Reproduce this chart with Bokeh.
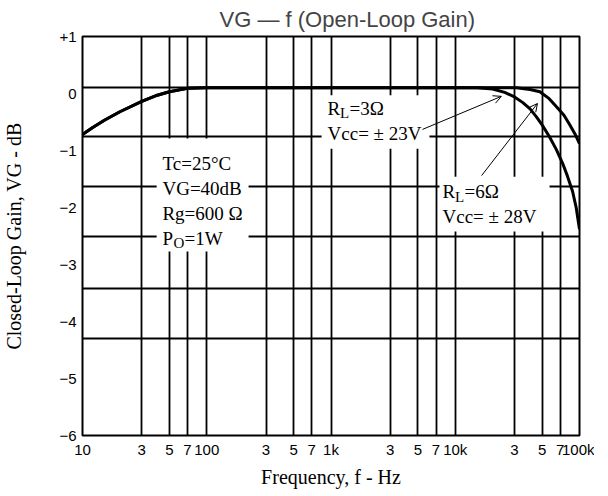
from bokeh.plotting import figure
from bokeh.models import FixedTicker, Label, Arrow, OpenHead
from bokeh.embed import file_html
from bokeh.resources import INLINE

# ---- data ----
x_ticks = [10, 30, 50, 70, 100, 300, 500, 700, 1000, 3000, 5000, 7000,
           10000, 30000, 50000, 70000, 100000]
x_tick_labels = ["10", "3", "5", "7", "100", "3", "5", "7", "1k", "3", "5", "7",
                 "10k", "3", "5", "7", "100k"]
y_ticks = [1, 0, -1, -2, -3, -4, -5, -6]
y_tick_labels = ["+1", "0", "\u22121", "\u22122", "\u22123", "\u22124", "\u22125", "\u22126"]
grid_db = [0.1, -0.75, -1.63, -2.51, -3.42, -4.3]

# RL = 6 ohm, Vcc = +-28V
f_6ohm = [10, 12, 15, 20, 30, 40, 50, 70, 100, 1000, 10000, 20000, 31000, 40000,
          48000, 57000, 65000, 75000, 83000, 92000, 100000]
vg_6ohm = [-0.72, -0.6, -0.47, -0.32, -0.14, -0.03, 0.03, 0.09, 0.1, 0.1, 0.1, 0.1,
           0.1, 0.07, 0.03, -0.09, -0.23, -0.38, -0.54, -0.71, -0.88]

# RL = 3 ohm, Vcc = +-23V
f_3ohm = [10, 12, 15, 20, 30, 40, 50, 70, 100, 1000, 10000, 15000, 20000, 25000,
          30000, 35000, 40000, 45000, 50000, 57000, 65000, 73000, 80000, 88000,
          94000, 100000]
vg_3ohm = [-0.72, -0.6, -0.47, -0.32, -0.14, -0.03, 0.03, 0.09, 0.1, 0.1, 0.1, 0.1,
           0.08, 0.02, -0.06, -0.16, -0.27, -0.41, -0.55, -0.75, -0.98, -1.22,
           -1.45, -1.72, -2.0, -2.38]

# white boxes behind the annotation blocks (left, right, top, bottom)
box_left = [39.5, 840, 7470]
box_right = [217, 6200, 57400]
box_top = [-0.79, -0.03, -1.46]
box_bottom = [-2.77, -0.97, -2.42]

SERIF = "Liberation Serif"
SANS = "Liberation Sans"

p = figure(frame_width=497, frame_height=399,
           x_axis_type="log", x_range=(10, 100000), y_range=(-6, 1),
           output_backend="svg", toolbar_location=None,
           min_border_left=80, min_border_right=15, min_border_top=30,
           min_border_bottom=40,
           title="VG \u2014 f (Open-Loop Gain)")
p.title.text_font = SANS
p.title.text_font_style = "normal"
p.title.text_font_size = "22px"
p.title.align = "left"
p.title.offset = 137
p.title.standoff = 9

p.outline_line_color = "black"
p.outline_line_width = 2
p.outline_line_alpha = 1

# axes
for ax in (p.xaxis[0], p.yaxis[0]):
    ax.axis_line_color = None
    ax.major_tick_line_color = None
    ax.minor_tick_line_color = None
    ax.major_tick_out = 0
    ax.major_tick_in = 0
    ax.minor_tick_out = 0
    ax.minor_tick_in = 0
    ax.major_label_text_font = SANS
    ax.major_label_text_font_size = "15px"
    ax.major_label_text_color = "black"
    ax.axis_label_text_font = SERIF
    ax.axis_label_text_font_style = "normal"
    ax.axis_label_text_font_size = "20px"
    ax.axis_label_text_color = "black"

p.xaxis.ticker = FixedTicker(ticks=x_ticks)
p.xaxis.major_label_overrides = {t: l for t, l in zip(x_ticks, x_tick_labels)}
p.xaxis.major_label_standoff = 5
p.xaxis.axis_label = "Frequency, f - Hz"
p.xaxis.axis_label_standoff = 5

p.yaxis.ticker = FixedTicker(ticks=y_ticks)
p.yaxis.major_label_overrides = {t: l for t, l in zip(y_ticks, y_tick_labels)}
p.yaxis.major_label_standoff = 6
p.yaxis.axis_label = "Closed-Loop Gain, VG - dB"
p.yaxis.axis_label_standoff = 31

# grid
p.xgrid.ticker = FixedTicker(ticks=x_ticks)
p.ygrid.ticker = FixedTicker(ticks=grid_db)
for g in (p.xgrid[0], p.ygrid[0]):
    g.grid_line_color = "black"
    g.grid_line_width = 1.8
    g.grid_line_alpha = 1

# white boxes
p.quad(left=box_left, right=box_right, top=box_top, bottom=box_bottom,
       fill_color="white", line_color=None)

# curves
p.line(f_6ohm, vg_6ohm, line_color="black", line_width=3)
p.line(f_3ohm, vg_3ohm, line_color="black", line_width=3)


def txt(x, y, s, size="19px", xo=0, yo=0):
    p.add_layout(Label(x=x, y=y, text=s, text_font=SERIF, text_font_size=size,
                       text_baseline="middle", text_align="left",
                       x_offset=xo, y_offset=yo, text_color="black"))


# left block
txt(44, -1.23, "Tc=25\u00b0C")
txt(44, -1.67, "VG=40dB")
txt(44, -2.11, "Rg=600 \u03a9")
txt(44, -2.54, "P")
txt(44, -2.54, "O", size="15px", xo=11, yo=-5)
txt(44, -2.54, "=1W", xo=22)

# RL = 3 ohm block
txt(938, -0.26, "R")
txt(938, -0.26, "L", size="15px", xo=12.5, yo=-5)
txt(938, -0.26, "=3\u03a9", xo=22)
txt(938, -0.70, "Vcc= \u00b1 23V")

# RL = 6 ohm block
txt(7900, -1.72, "R")
txt(7900, -1.72, "L", size="15px", xo=12.5, yo=-5)
txt(7900, -1.72, "=6\u03a9", xo=22)
txt(7900, -2.16, "Vcc= \u00b1 28V")

# arrows
p.add_layout(Arrow(end=OpenHead(size=8, line_width=1), x_start=5450, y_start=-0.63,
                   x_end=23500, y_end=-0.05, line_width=1))
p.add_layout(Arrow(end=OpenHead(size=8, line_width=1), x_start=16300, y_start=-1.44,
                   x_end=45900, y_end=-0.175, line_width=1))

open("out.html", "w").write(file_html(p, INLINE))
